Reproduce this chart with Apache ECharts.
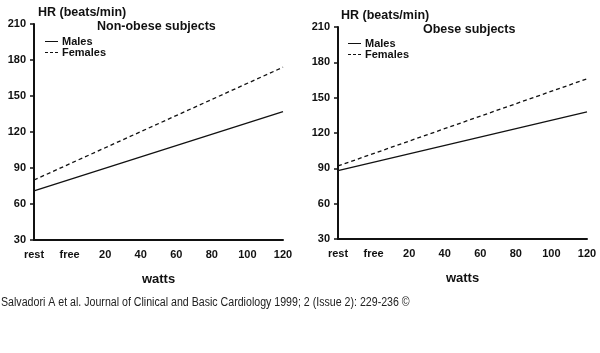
<!DOCTYPE html>
<html>
<head>
<meta charset="utf-8">
<script src="https://cdn.jsdelivr.net/npm/echarts@6/dist/echarts.min.js"></script>
<style>
  html, body { margin: 0; padding: 0; background: #fff; }
  #main { width: 600px; height: 353px; }
</style>
</head>
<body>
<div id="main"></div>
<script>
// x positions along the exercise test
var stages = ['rest', 'free', '20', '40', '60', '80', '100', '120'];

// heart rate, read only at the ends of each regression line
var nonObeseMales   = [71, null, null, null, null, null, null, 137];
var nonObeseFemales = [80, null, null, null, null, null, null, 174];
var obeseMales      = [88, null, null, null, null, null, null, 138];
var obeseFemales    = [92, null, null, null, null, null, null, 166];

var yTicks = [30, 60, 90, 120, 150, 180, 210];

var myChart = echarts.init(document.getElementById('main'));

var font = 'Liberation Sans, Arial, sans-serif';

function xAxisFor(gridIndex) {
    return {
        type: 'category',
        gridIndex: gridIndex,
        data: stages,
        boundaryGap: false,
        name: 'watts',
        nameLocation: 'middle',
        nameGap: 33,
        nameTextStyle: { fontFamily: font, fontWeight: 'bold', fontSize: 13, color: '#111' },
        axisLine: { lineStyle: { color: '#111', width: 2 } },
        axisTick: { show: false },
        axisLabel: { fontFamily: font, fontWeight: 'bold', fontSize: 11, color: '#111', margin: 9, interval: 0 },
        splitLine: { show: false }
    };
}

function yAxisFor(gridIndex) {
    return {
        type: 'value',
        gridIndex: gridIndex,
        min: yTicks[0],
        max: yTicks[yTicks.length - 1],
        interval: 30,
        axisLine: { show: true, lineStyle: { color: '#111', width: 2 } },
        axisTick: { show: true, length: 4, lineStyle: { color: '#111', width: 1.5 } },
        axisLabel: { fontFamily: font, fontWeight: 'bold', fontSize: 11, color: '#111', margin: 8 },
        splitLine: { show: false }
    };
}

function lineSeries(name, data, idx, dashed) {
    return {
        name: name,
        type: 'line',
        xAxisIndex: idx,
        yAxisIndex: idx,
        data: data,
        connectNulls: true,
        symbol: 'none',
        silent: true,
        lineStyle: { color: '#111', width: 1.3, type: dashed ? [4, 3] : 'solid' },
        itemStyle: { color: '#111' }
    };
}

function legendFor(idx, left, top) {
    return {
        data: [
            { name: idx === 0 ? 'Males' : 'Males ', icon: 'path://M0,0 L13,0 L13,1 L0,1 Z' },
            { name: idx === 0 ? 'Females' : 'Females ', icon: 'path://M0,0 L3,0 L3,1 L0,1 Z M5,0 L8,0 L8,1 L5,1 Z M10,0 L13,0 L13,1 L10,1 Z' }
        ],
        orient: 'vertical',
        left: left,
        top: top,
        itemWidth: 13,
        itemHeight: 1,
        itemGap: 0,
        padding: 0,
        selectedMode: false,
        textStyle: { fontFamily: font, fontWeight: 'bold', fontSize: 11, lineHeight: 10, color: '#111', padding: [0, 0, 0, -1] }
    };
}

var option = {
    animation: false,
    backgroundColor: '#fff',
    title: [
        { text: 'HR (beats/min)', left: 38, top: 6, textStyle: { fontFamily: font, fontWeight: 'bold', fontSize: 12.5, color: '#111' }, padding: 0 },
        { text: 'Non-obese subjects', left: 97, top: 20, textStyle: { fontFamily: font, fontWeight: 'bold', fontSize: 12.5, color: '#111' }, padding: 0 },
        { text: 'HR (beats/min)', left: 341, top: 9, textStyle: { fontFamily: font, fontWeight: 'bold', fontSize: 12.5, color: '#111' }, padding: 0 },
        { text: 'Obese subjects', left: 423, top: 23, textStyle: { fontFamily: font, fontWeight: 'bold', fontSize: 12.5, color: '#111' }, padding: 0 }
    ],
    graphic: [{
        type: 'text',
        left: 1,
        top: 297,
        scaleX: 0.885,
        style: {
            text: 'Salvadori A et al. Journal of Clinical and Basic Cardiology 1999; 2 (Issue 2): 229-236 \u00a9',
            font: 'normal 12px ' + font,
            fill: '#222'
        }
    }],
    legend: [legendFor(0, 45, 36), legendFor(1, 348, 38)],
    grid: [
        { left: 34, right: 317, top: 24, bottom: 113 },
        { left: 338, right: 13, top: 27, bottom: 114 }
    ],
    xAxis: [xAxisFor(0), xAxisFor(1)],
    yAxis: [yAxisFor(0), yAxisFor(1)],
    series: [
        lineSeries('Males', nonObeseMales, 0, false),
        lineSeries('Females', nonObeseFemales, 0, true),
        lineSeries('Males ', obeseMales, 1, false),
        lineSeries('Females ', obeseFemales, 1, true)
    ]
};

myChart.setOption(option);
</script>
</body>
</html>
